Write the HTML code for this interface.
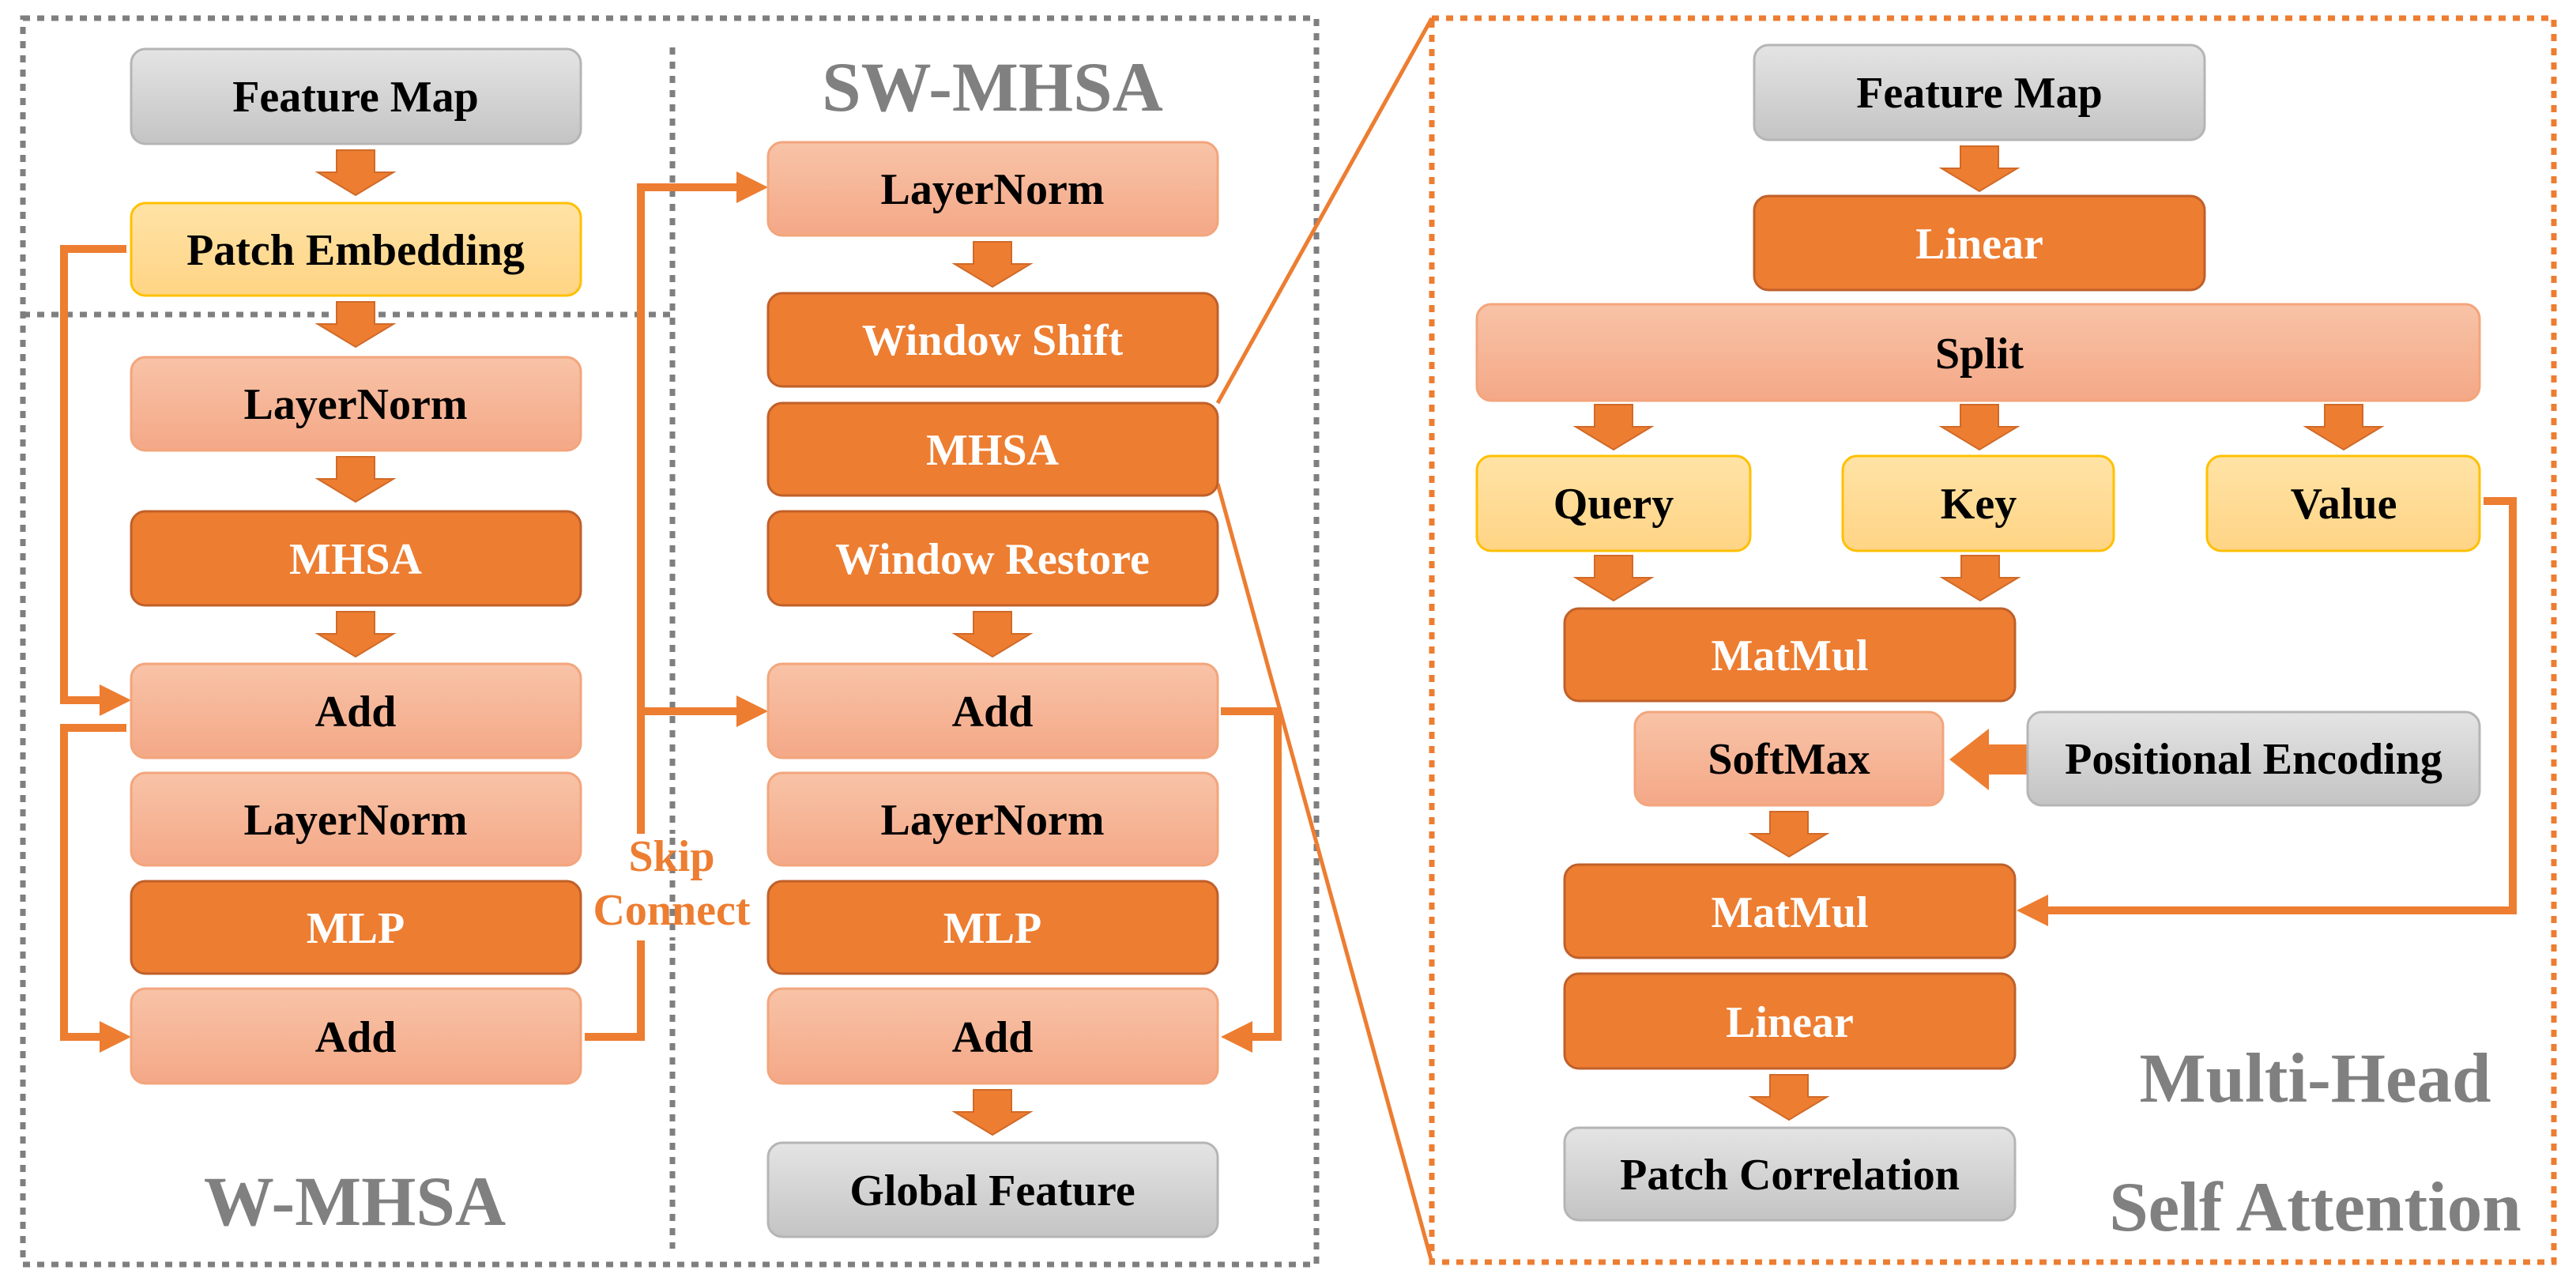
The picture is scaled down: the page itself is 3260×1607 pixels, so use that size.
<!DOCTYPE html>
<html><head><meta charset="utf-8"><style>
html,body{margin:0;padding:0;background:#fff}
svg{display:block}
text{font-family:"Liberation Serif",serif;font-weight:bold}
</style></head><body>
<svg width="3260" height="1607" viewBox="0 0 3260 1607" xmlns="http://www.w3.org/2000/svg">
<defs>
<linearGradient id="gG" x1="0" y1="0" x2="0" y2="1"><stop offset="0" stop-color="#e4e4e4"/><stop offset="1" stop-color="#c4c4c4"/></linearGradient>
<linearGradient id="gL" x1="0" y1="0" x2="0" y2="1"><stop offset="0" stop-color="#f8c3a7"/><stop offset="1" stop-color="#f4a887"/></linearGradient>
<linearGradient id="gY" x1="0" y1="0" x2="0" y2="1"><stop offset="0" stop-color="#ffe3a6"/><stop offset="1" stop-color="#ffd485"/></linearGradient>
<path id="da" d="M-24 0 H24 V28 H48 L0 57 L-48 28 H-24 Z" fill="#ed7d31" stroke="#d06a28" stroke-width="2"/>
</defs>

<rect x="29" y="23" width="1637" height="1577" fill="none" stroke="#7f7f7f" stroke-width="7" stroke-dasharray="9 9"/>
<line x1="851" y1="60" x2="851" y2="1580" stroke="#7f7f7f" stroke-width="7" stroke-dasharray="9 9"/>
<line x1="29" y1="398" x2="851" y2="398" stroke="#7f7f7f" stroke-width="7" stroke-dasharray="9 9"/>
<rect x="1812" y="23" width="1420" height="1574" fill="none" stroke="#ed7d31" stroke-width="7" stroke-dasharray="9 9"/>
<line x1="1541" y1="510" x2="1812" y2="23" stroke="#ed7d31" stroke-width="5"/>
<line x1="1541" y1="612" x2="1812" y2="1597" stroke="#ed7d31" stroke-width="5"/>

<g fill="none" stroke="#ed7d31" stroke-width="10">
<polyline points="160,315 81,315 81,886 130,886"/>
<polyline points="160,921 81,921 81,1312 130,1312"/>
<polyline points="740,1312 811,1312 811,237 935,237"/>
<polyline points="811,900 935,900"/>
<polyline points="1545,900 1617,900 1617,1312 1580,1312"/>
<polyline points="3143,634 3180,634 3180,1152 2590,1152"/>
</g>
<g fill="#ed7d31">
<polygon points="166,886 126,866 126,906"/>
<polygon points="166,1312 126,1292 126,1332"/>
<polygon points="972,237 932,217 932,257"/>
<polygon points="972,900 932,880 932,920"/>
<polygon points="1545,1312 1585,1292 1585,1332"/>
<polygon points="2552,1152 2592,1132 2592,1172"/>
<polygon points="2467,961 2517,922 2517,942 2567,942 2567,980 2517,980 2517,1000"/>
</g>
<rect x="745" y="1055" width="210" height="135" fill="#fff"/>
<line x1="851" y1="1060" x2="851" y2="1190" stroke="#7f7f7f" stroke-width="7" stroke-dasharray="9 9"/>
<text x="850" y="1102" font-size="56" fill="#ed7d31" text-anchor="middle">Skip</text>
<text x="850" y="1170" font-size="56" fill="#ed7d31" text-anchor="middle">Connect</text>

<use href="#da" x="450" y="190"/><use href="#da" x="450" y="382"/><use href="#da" x="450" y="578"/><use href="#da" x="450" y="774"/>
<use href="#da" x="1256" y="306"/><use href="#da" x="1256" y="774"/><use href="#da" x="1256" y="1379"/>
<use href="#da" x="2505" y="185"/><use href="#da" x="2042" y="512"/><use href="#da" x="2505" y="512"/><use href="#da" x="2966" y="512"/>
<use href="#da" x="2042" y="703"/><use href="#da" x="2506" y="703"/><use href="#da" x="2264" y="1027"/><use href="#da" x="2264" y="1360"/>

<g stroke-width="3">
<rect x="166" y="62" width="569" height="120" rx="18" fill="url(#gG)" stroke="#b5b5b5"/>
<rect x="166" y="257" width="569" height="117" rx="18" fill="url(#gY)" stroke="#ffc000"/>
<rect x="166" y="452" width="569" height="118" rx="18" fill="url(#gL)" stroke="#f3a57c"/>
<rect x="166" y="647" width="569" height="119" rx="18" fill="#ed7d31" stroke="#c0602a"/>
<rect x="166" y="840" width="569" height="119" rx="18" fill="url(#gL)" stroke="#f3a57c"/>
<rect x="166" y="978" width="569" height="117" rx="18" fill="url(#gL)" stroke="#f3a57c"/>
<rect x="166" y="1115" width="569" height="117" rx="18" fill="#ed7d31" stroke="#c0602a"/>
<rect x="166" y="1251" width="569" height="120" rx="18" fill="url(#gL)" stroke="#f3a57c"/>

<rect x="972" y="180" width="569" height="118" rx="18" fill="url(#gL)" stroke="#f3a57c"/>
<rect x="972" y="371" width="569" height="118" rx="18" fill="#ed7d31" stroke="#c0602a"/>
<rect x="972" y="510" width="569" height="117" rx="18" fill="#ed7d31" stroke="#c0602a"/>
<rect x="972" y="647" width="569" height="119" rx="18" fill="#ed7d31" stroke="#c0602a"/>
<rect x="972" y="840" width="569" height="119" rx="18" fill="url(#gL)" stroke="#f3a57c"/>
<rect x="972" y="978" width="569" height="117" rx="18" fill="url(#gL)" stroke="#f3a57c"/>
<rect x="972" y="1115" width="569" height="117" rx="18" fill="#ed7d31" stroke="#c0602a"/>
<rect x="972" y="1251" width="569" height="120" rx="18" fill="url(#gL)" stroke="#f3a57c"/>
<rect x="972" y="1446" width="569" height="119" rx="18" fill="url(#gG)" stroke="#b5b5b5"/>

<rect x="2220" y="57" width="570" height="120" rx="18" fill="url(#gG)" stroke="#b5b5b5"/>
<rect x="2220" y="248" width="570" height="119" rx="18" fill="#ed7d31" stroke="#c0602a"/>
<rect x="1869" y="385" width="1269" height="122" rx="18" fill="url(#gL)" stroke="#f3a57c"/>
<rect x="1869" y="577" width="346" height="120" rx="18" fill="url(#gY)" stroke="#ffc000"/>
<rect x="2332" y="577" width="343" height="120" rx="18" fill="url(#gY)" stroke="#ffc000"/>
<rect x="2793" y="577" width="345" height="120" rx="18" fill="url(#gY)" stroke="#ffc000"/>
<rect x="1980" y="770" width="570" height="117" rx="18" fill="#ed7d31" stroke="#c0602a"/>
<rect x="2069" y="901" width="390" height="118" rx="18" fill="url(#gL)" stroke="#f3a57c"/>
<rect x="2566" y="901" width="572" height="118" rx="18" fill="url(#gG)" stroke="#b5b5b5"/>
<rect x="1980" y="1094" width="570" height="118" rx="18" fill="#ed7d31" stroke="#c0602a"/>
<rect x="1980" y="1232" width="570" height="120" rx="18" fill="#ed7d31" stroke="#c0602a"/>
<rect x="1980" y="1427" width="570" height="117" rx="18" fill="url(#gG)" stroke="#b5b5b5"/>
</g>

<g font-size="56" text-anchor="middle" fill="#000">
<text x="450" y="141">Feature Map</text>
<text x="450" y="335">Patch Embedding</text>
<text x="450" y="530">LayerNorm</text>
<text x="450" y="919">Add</text>
<text x="450" y="1056">LayerNorm</text>
<text x="450" y="1331">Add</text>
<text x="1256" y="258">LayerNorm</text>
<text x="1256" y="919">Add</text>
<text x="1256" y="1056">LayerNorm</text>
<text x="1256" y="1331">Add</text>
<text x="1256" y="1525">Global Feature</text>
<text x="2505" y="136">Feature Map</text>
<text x="2505" y="466">Split</text>
<text x="2042" y="656">Query</text>
<text x="2504" y="656">Key</text>
<text x="2966" y="656">Value</text>
<text x="2264" y="979">SoftMax</text>
<text x="2852" y="979">Positional Encoding</text>
<text x="2265" y="1505">Patch Correlation</text>
</g>
<g font-size="56" text-anchor="middle" fill="#fff">
<text x="450" y="726">MHSA</text>
<text x="450" y="1193">MLP</text>
<text x="1256" y="449">Window Shift</text>
<text x="1256" y="588">MHSA</text>
<text x="1256" y="726">Window Restore</text>
<text x="1256" y="1193">MLP</text>
<text x="2505" y="327">Linear</text>
<text x="2265" y="848">MatMul</text>
<text x="2265" y="1173">MatMul</text>
<text x="2265" y="1312">Linear</text>
</g>
<g font-size="89" text-anchor="middle" fill="#808080">
<text x="1256" y="140">SW-MHSA</text>
<text x="449" y="1550">W-MHSA</text>
<text x="2930" y="1394">Multi-Head</text>
<text x="2930" y="1557">Self Attention</text>
</g>
</svg>
</body></html>
